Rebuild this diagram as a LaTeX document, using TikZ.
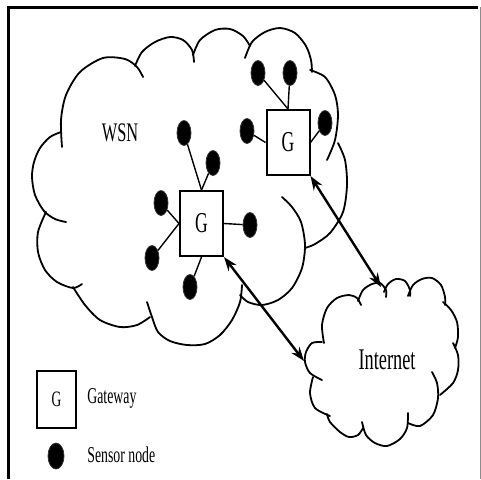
\documentclass[tikz,border=0pt]{standalone}
\usepackage{fontspec}
\setmainfont{Liberation Serif}[FakeStretch=0.61]
\usetikzlibrary{shapes.geometric,arrows.meta}
\tikzset{
  gate/.style={draw, line width=1pt, minimum width=21.5pt, minimum height=32.5pt, inner sep=0pt, font=\fontsize{14.4}{16}\selectfont},
  sensor/.style={ellipse, fill=black, draw=black!80, minimum width=7pt, minimum height=12.5pt, inner sep=0pt},
  link/.style={line width=0.7pt},
  cloudline/.style={line width=0.9pt, line cap=round},
  updown/.style={{Stealth[length=7pt,width=5pt]}-{Stealth[length=7pt,width=5pt]}, line width=1.2pt}
}
\begin{document}
\begin{tikzpicture}[x=0.5pt,y=-0.5pt]
	\useasboundingbox (0,0) rectangle (481,479);
	\draw[line width=1.5pt] (8,479) -- (8,7) -- (478,7);
	\draw[black!45, line width=0.5pt] (480,7) -- (480,479);
	% WSN cloud
	\draw[cloudline] plot[smooth] coordinates {(62,147) (61,120) (66,95) (80,72) (103,58) (125,59) (137,67) (143,77)};
	\draw[cloudline] plot[smooth] coordinates {(135,66) (142,52) (155,42) (170,37) (183,40) (192,50) (194,62)};
	\draw[cloudline] plot[smooth] coordinates {(193,55) (200,40) (215,30) (230,29) (243,36) (250,46)};
	\draw[cloudline] plot[smooth] coordinates {(245,58) (252,42) (265,32) (280,28) (295,33) (306,46) (311,60) (312,72)};
	\draw[cloudline] plot[smooth] coordinates {(310,70) (325,77) (335,95) (338,115) (335,140) (327,160)};
	\draw[cloudline] plot[smooth] coordinates {(338,143) (345,160) (347,185) (343,212) (330,233) (315,244) (305,248)};
	\draw[cloudline] plot[smooth] coordinates {(282,197) (292,207) (301,222) (305,245) (302,268) (292,288) (278,300) (262,305) (248,302) (240,295)};
	\draw[cloudline] plot[smooth] coordinates {(147,302) (152,317) (158,332) (170,341) (187,345) (205,344) (220,335) (232,320) (240,302) (242,285)};
	\draw[cloudline] plot[smooth] coordinates {(73,287) (85,305) (100,320) (120,327) (137,325) (150,317)};
	\draw[cloudline] plot[smooth] coordinates {(46,212) (38,232) (38,252) (45,270) (57,282) (73,288) (82,284)};
	\draw[cloudline] plot[smooth] coordinates {(61,132) (50,137) (40,148) (34,162) (32,177) (35,195) (44,211) (55,219) (66,222)};
	\node[font=\fontsize{13.4}{15}\selectfont] (wsn) at (120,133) {WSN};
	% Internet cloud
	\draw[cloudline] plot[smooth] coordinates {(322,342) (312,343) (306,352) (305,362) (310,373) (322,380)};
	\draw[cloudline] plot[smooth] coordinates {(324,343) (322,325) (327,308) (337,298) (349,295) (357,298) (361,305)};
	\draw[cloudline] plot[smooth] coordinates {(358,301) (363,290) (372,284) (380,283) (386,290) (386,297)};
	\draw[cloudline] plot[smooth] coordinates {(384,292) (388,284) (396,279) (405,281) (410,290) (410,296)};
	\draw[cloudline] plot[smooth] coordinates {(408,296) (413,285) (422,279) (432,278) (441,285) (445,297) (445,305)};
	\draw[cloudline] plot[smooth] coordinates {(443,302) (451,310) (457,322) (458,337) (455,348)};
	\draw[cloudline] plot[smooth] coordinates {(453,343) (458,355) (458,370) (453,383) (440,395)};
	\draw[cloudline] plot[smooth] coordinates {(432,372) (437,383) (438,398) (433,415) (420,426) (408,423)};
	\draw[cloudline] plot[smooth] coordinates {(408,413) (407,428) (400,439) (387,446) (375,443) (366,435) (362,422)};
	\draw[cloudline] plot[smooth] coordinates {(363,428) (358,435) (349,437) (340,432) (330,422) (327,414)};
	\draw[cloudline] plot[smooth] coordinates {(313,377) (310,393) (315,408) (330,416)};
	\node[font=\fontsize{15}{17}\selectfont] (inet) at (387,360) {Internet};
	\coordinate (inettop) at (381,287);
	\coordinate (inetleft) at (304,361);
	% gateways and sensors
	\node[gate, fill=white] (g1) at (201.5,223.5) {G};
	\node[gate, fill=white] (g2) at (288,142.5) {G};
	\node[sensor] (s1) at (184,133) {};
	\node[sensor] (s2) at (213,163) {};
	\node[sensor] (s3) at (161,203) {};
	\node[sensor] (s4) at (152,258) {};
	\node[sensor] (s5) at (250,225) {};
	\node[sensor] (s6) at (190,287) {};
	\node[sensor] (t1) at (258,73) {};
	\node[sensor] (t2) at (290,73) {};
	\node[sensor] (t3) at (247,131) {};
	\node[sensor] (t4) at (325,123) {};
	\draw[link] (s1) -- (g1.north);
	\draw[link] (s2) -- (g1.north);
	\draw[link] (s3) -- (g1.west);
	\draw[link] (s4) -- (g1.west);
	\draw[link] (g1.east) -- (s5);
	\draw[link] (g1.south) -- (s6);
	\draw[link] (t1) -- (g2.north);
	\draw[link] (t2) -- (g2.north);
	\draw[link] (t3) -- (g2.west);
	\draw[link] (t4) -- (g2.east);
	\draw[updown] (g2.south east) -- (inettop);
	\draw[updown] (g1.south east) -- (inetleft);
	% legend
	\node[gate, minimum width=19.5pt, minimum height=28.5pt, font=\fontsize{11}{13}\selectfont] (lg) at (56.5,399.5) {G};
	\node[sensor, minimum width=8pt, minimum height=13pt] (ls) at (56,456) {};
	\node[anchor=base west, inner sep=0pt, font=\fontsize{11.3}{13}\selectfont] (lgtxt) at (87,403) {Gateway};
	\node[anchor=base west, inner sep=0pt, font=\fontsize{11.3}{13}\selectfont] (lstxt) at (87,462) {Sensor node};
\end{tikzpicture}
\end{document}
